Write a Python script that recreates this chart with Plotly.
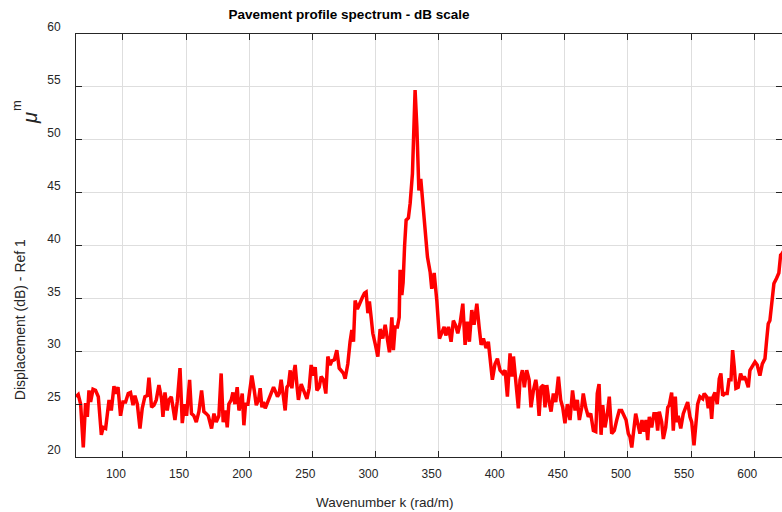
import plotly.graph_objects as go

k_rad_m = [
    62.8, 64.6, 66.5, 68.6, 70.4, 71.8, 73.1, 74.4, 76.3, 78.3, 80.5, 82.9, 84.4, 86.3, 89.0, 90.8,
    92.9, 94.2, 96.1, 98.1, 100.0, 102.1, 104.2, 106.0, 108.0, 109.5, 111.4, 113.5, 115.3, 117.4,
    119.3, 120.6, 122.7, 124.6, 126.4, 128.5, 130.6, 131.7, 133.3, 135.1, 136.4, 138.3, 139.8,
    141.2, 143.0, 145.2, 147.0, 148.8, 150.4, 152.8, 154.3, 156.2, 158.1, 160.2, 162.3, 164.1,
    166.0, 167.6, 170.2, 172.1, 173.9, 176.0, 177.8, 179.4, 181.3, 182.6, 183.9, 185.8, 187.1,
    188.7, 190.5, 191.9, 193.1, 194.5, 195.8, 197.1, 199.0,
    202.1, 204.0, 205.6, 207.4, 208.7, 210.1, 211.3, 212.7, 214.8, 216.6, 219.3, 221.1, 222.4,
    223.8, 225.3, 226.7, 228.5, 229.9, 231.1, 232.5, 233.8, 234.8, 236.4, 237.8, 239.0, 241.2,
    243.0, 244.3, 245.7, 247.5, 249.1, 250.9, 252.3, 253.6, 255.4, 257.0, 258.8, 260.7, 262.3,
    264.1, 265.5, 267.5, 269.4, 271.3, 272.8, 274.7, 276.0, 278.1, 279.9, 281.3, 282.6, 283.9,
    285.7, 287.9, 289.7, 291.3, 292.6, 294.0, 295.2, 296.6, 297.9, 299.8, 301.9,
    303.7, 305.8, 307.7, 309.5, 311.1, 313.0, 314.2, 315.6, 317.4, 318.8, 319.5, 320.9, 321.9,
    323.1, 324.3, 326.1, 327.5, 329.3, 331.4, 332.8, 334.4, 335.9, 337.5, 339.3, 341.2, 343.3,
    344.6, 346.5, 348.6, 350.7, 352.6, 354.4, 355.7, 357.8, 359.9, 361.7, 363.6, 365.2, 367.0,
    369.2, 371.0, 372.8, 374.4, 376.3, 378.1, 380.3, 382.1, 383.7, 385.5, 387.6, 389.4, 390.8,
    392.6, 394.7, 396.6, 398.7, 400.9, 402.7, 404.5, 406.6, 408.0, 409.3, 411.1, 413.2, 414.5,
    416.4, 417.9, 419.8, 421.7, 423.2, 425.1, 427.0, 428.2, 429.6, 431.1, 433.0, 434.3, 435.7,
    437.5, 439.1, 440.9, 442.8, 444.9, 446.7, 448.3, 450.1, 452.0, 454.1, 456.1, 458.1, 459.9,
    461.5, 463.4, 464.6, 466.5, 468.6, 470.5, 472.6, 474.5, 475.7, 477.1, 478.7, 480.0, 481.8,
    483.7, 485.2, 487.1, 489.2, 491.1, 493.1, 495.0, 496.9, 498.5, 500.3, 501.6, 503.0, 504.2,
    506.1, 507.7, 509.5, 511.1, 512.7, 514.3, 515.6, 516.9, 518.8, 520.6, 522.2, 523.5, 524.8,
    526.7, 528.0, 529.9, 531.5, 532.7, 534.6, 535.9, 537.5, 538.6, 539.8, 541.8, 543.8, 545.7,
    547.3, 549.1, 550.5, 552.3, 553.9, 555.2, 557.0, 559.2, 560.4, 562.3, 563.6, 564.9, 566.3,
    567.5, 568.9, 570.7, 572.3, 573.6, 575.0, 576.8, 578.6, 580.0, 581.6, 582.9, 584.2, 585.5,
    587.3, 589.2, 590.8, 592.1, 593.4, 595.3, 596.6, 598.8, 600.6, 602.4, 604.5, 606.4, 608.5,
    609.8, 611.1, 612.4, 613.8, 615.6, 617.7, 619.5, 620.9, 621.9, 628.3,
]

displacement_db = [
    25.7, 25.9, 25.0, 20.9, 25.1, 23.8, 26.3, 25.2, 26.4, 26.3, 25.7, 22.1, 22.8, 22.7, 25.4, 24.4,
    26.7, 26.0, 26.6, 23.9, 25.2, 25.2, 26.0, 26.1, 24.9, 25.8, 25.0, 22.7, 24.6, 25.7,
    25.8, 27.5, 24.7, 24.9, 25.4, 26.8, 25.5, 23.8, 26.1, 24.4, 25.4, 25.7, 24.6,
    23.5, 25.2, 28.4, 23.2, 25.0, 23.9, 27.3, 24.1, 23.9, 23.3, 24.3, 26.3, 24.3,
    24.1, 23.9, 22.7, 24.1, 23.3, 23.9, 27.9, 23.3, 24.4, 22.8, 25.0, 25.4, 26.1,
    25.0, 26.6, 24.4, 25.0, 26.0, 23.0, 25.0, 25.0,
    27.7, 26.3, 24.9, 25.4, 26.5, 24.7, 25.2, 24.6, 25.2, 25.7, 26.6, 26.1, 25.7,
    26.0, 27.3, 26.1, 24.4, 26.6, 26.8, 28.2, 26.5, 27.6, 28.7, 26.8, 25.4, 26.9,
    26.3, 25.8, 25.5, 26.5, 28.7, 27.7, 28.5, 26.3, 26.6, 27.6, 27.3, 26.0, 29.5,
    28.7, 29.1, 29.2, 30.1, 28.4, 28.2, 27.9, 27.4, 28.8, 30.9, 32.0, 30.9, 34.8,
    34.0, 34.7, 35.1, 35.5, 35.6, 33.6, 34.7, 33.2, 31.7, 30.7, 29.5,
    32.1, 31.2, 32.5, 30.9, 29.9, 33.2, 30.1, 32.3, 32.3, 33.2, 37.7, 35.3, 36.5,
    40.0, 42.4, 42.6, 44.0, 46.8, 54.7, 51.2, 45.2, 46.3, 44.3, 41.8, 38.9, 37.5,
    35.9, 37.4, 34.8, 31.2, 31.8, 32.3, 31.5, 32.3, 30.9, 32.9, 32.4, 31.7, 32.6,
    34.5, 30.6, 32.8, 30.9, 33.9, 32.5, 34.5, 32.3, 30.6, 31.2, 30.3, 30.9, 29.5,
    27.3, 28.8, 29.3, 28.2, 27.9, 28.2, 25.7, 29.8, 27.6, 29.5, 27.3, 24.6, 27.3,
    28.2, 26.6, 28.2, 27.3, 24.7, 26.3, 27.3, 26.3, 23.9, 26.6, 26.8, 24.7, 26.8,
    25.2, 24.3, 26.0, 25.2, 27.6, 25.4, 24.7, 23.2, 25.0, 23.5, 26.3, 24.4, 25.4,
    23.5, 24.7, 26.0, 24.7, 23.8, 24.1, 22.5, 22.4, 26.0, 26.9, 22.1, 24.9, 22.8,
    24.1, 25.7, 22.2, 22.5, 23.5, 24.4, 24.4, 23.8, 23.5, 22.2, 21.9, 20.9, 22.2,
    24.1, 23.2, 22.2, 23.5, 22.4, 23.5, 21.6, 23.8, 22.8, 24.1, 24.1, 22.5, 24.3,
    23.3, 21.7, 22.8, 24.7, 24.9, 26.1, 22.5, 25.7, 23.3, 23.9, 22.7, 24.1, 24.7,
    25.2, 23.8, 23.3, 21.1, 23.5, 25.0, 25.7, 25.5, 26.0, 25.7, 24.6, 25.7, 23.6,
    25.7, 26.1, 25.0, 27.4, 27.9, 25.8, 26.0, 26.0, 27.3, 27.3, 30.1, 28.5, 26.5,
    26.6, 27.9, 27.3, 27.6, 27.3, 26.6, 28.2, 28.7, 29.0, 28.7, 27.7, 28.8, 29.3,
    31.0, 32.6, 32.9, 34.5, 36.4, 36.9, 37.4, 39.1, 39.2, 40.5,
]

x_ticks = [100, 150, 200, 250, 300, 350, 400, 450, 500, 550, 600]
y_ticks = [20, 25, 30, 35, 40, 45, 50, 55, 60]

FONT = "Liberation Sans, Arial, sans-serif"
INK = "#262626"

fig = go.Figure()
fig.add_trace(go.Scatter(
    x=k_rad_m, y=displacement_db, mode="lines",
    line=dict(color="#ff0000", width=3.5), showlegend=False,
))

axis_common = dict(
    showline=True, linecolor=INK, linewidth=1, mirror="ticks",
    ticks="inside", ticklen=6, tickcolor=INK, tickwidth=1,
    showgrid=True, gridcolor="#dedede", gridwidth=1, zeroline=False,
    tickfont=dict(family=FONT, size=12, color=INK),
)

fig.update_layout(
    width=782, height=512,
    margin=dict(l=76, r=0, t=34, b=55),
    paper_bgcolor="white", plot_bgcolor="white",
    title=dict(text="<b>Pavement profile spectrum - dB scale</b>",
               x=349 / 782, y=1 - 14 / 512, xanchor="center", yanchor="middle",
               xref="container", yref="container",
               font=dict(family=FONT, size=13.5, color="#000000")),
    xaxis=dict(range=[62.83, 622.0], tickvals=x_ticks, ticklabelshift=-7,
               ticklabelstandoff=6, **axis_common),
    yaxis=dict(range=[20, 60], tickvals=y_ticks, ticklabelshift=-7,
               ticklabelstandoff=12, **axis_common),
    annotations=[
        dict(text="Wavenumber k (rad/m)", xref="paper", yref="paper",
             x=(385 - 76) / 706, y=(456.7 - 502) / 422.7, showarrow=False,
             xanchor="center", yanchor="middle",
             font=dict(family=FONT, size=13.5, color=INK)),
        dict(text="Displacement (dB) - Ref 1", xref="paper", yref="paper",
             x=(20 - 76) / 706, y=(456.7 - 320) / 422.7, showarrow=False,
             textangle=-90, xanchor="center", yanchor="middle",
             font=dict(family=FONT, size=14, color=INK)),
        dict(text="<i>μ</i>", xref="paper", yref="paper",
             x=(30 - 76) / 706, y=(456.7 - 118) / 422.7, showarrow=False,
             textangle=-90, xanchor="center", yanchor="middle",
             font=dict(family=FONT, size=20, color=INK)),
        dict(text="m", xref="paper", yref="paper",
             x=(16 - 76) / 706, y=(456.7 - 106) / 422.7, showarrow=False,
             textangle=-90, xanchor="center", yanchor="middle",
             font=dict(family=FONT, size=13, color=INK)),
    ],
)

fig.write_html("out.html")
